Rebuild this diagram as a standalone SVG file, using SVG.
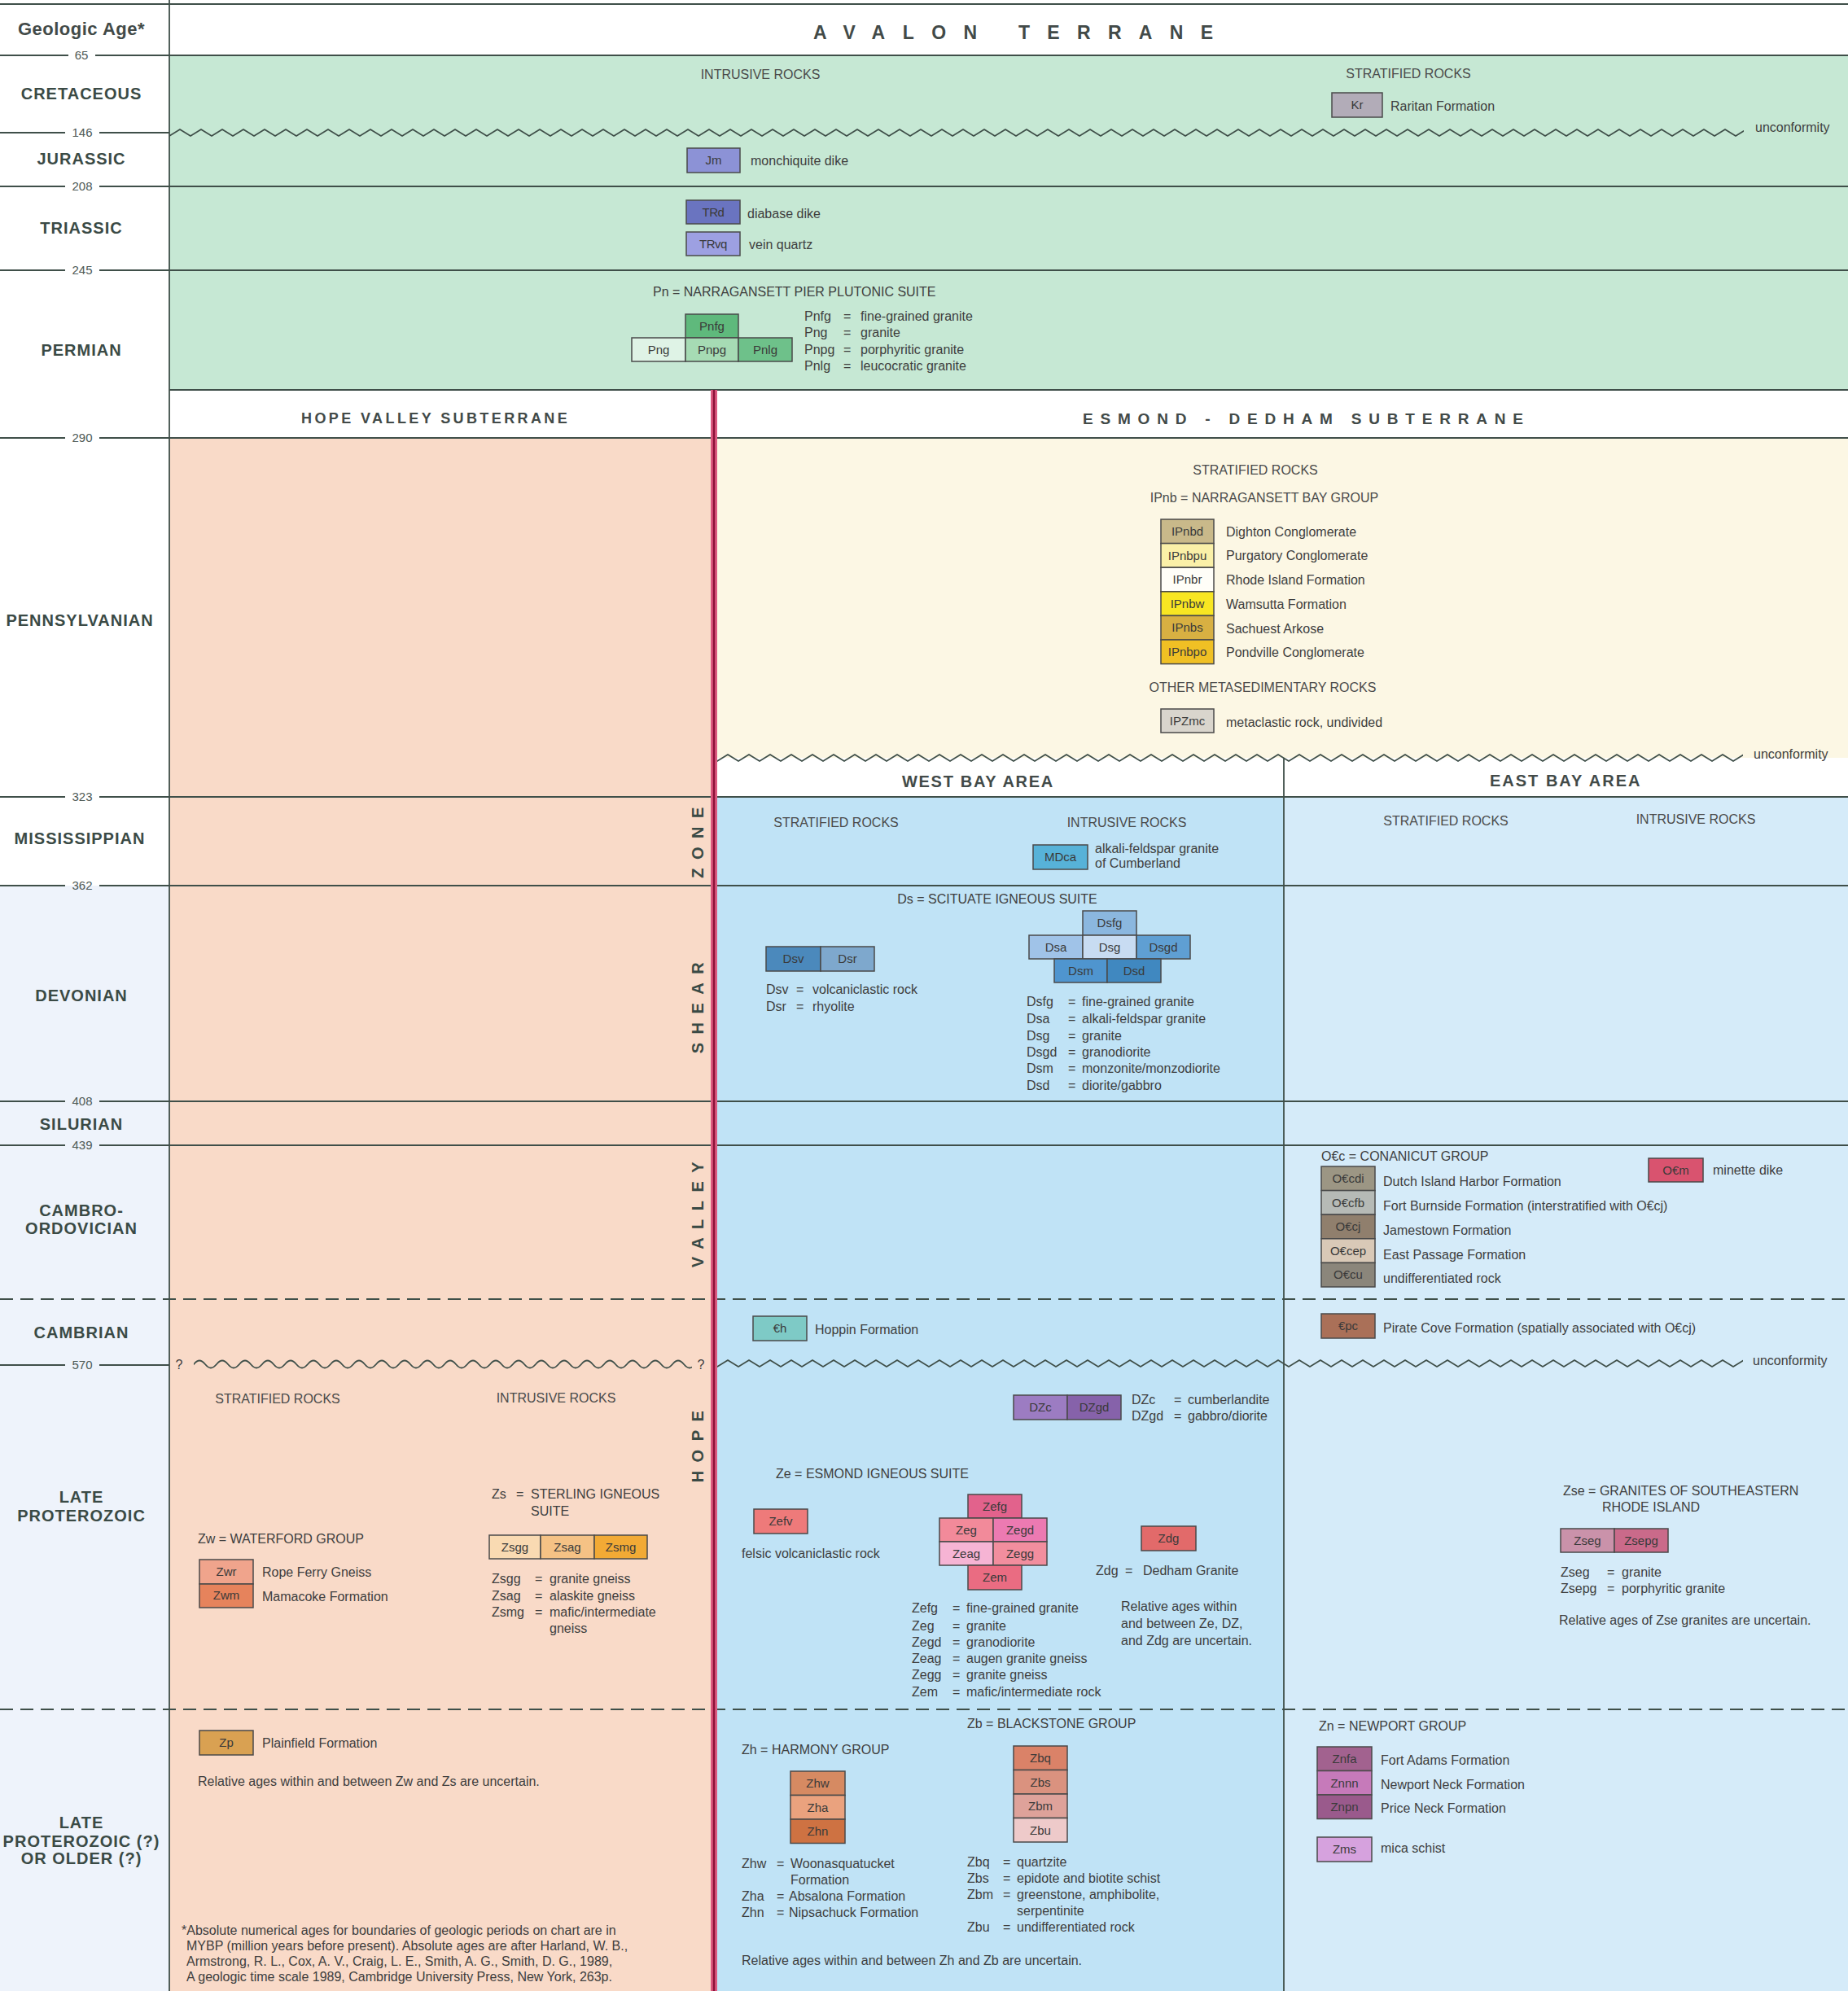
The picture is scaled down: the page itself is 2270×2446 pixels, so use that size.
<svg xmlns="http://www.w3.org/2000/svg" width="2270" height="2446" viewBox="0 0 2270 2446">
<defs>
<style>
.t{font-family:"Liberation Sans",Arial,sans-serif;font-size:16px;fill:#3e3e3e}
.h{font-family:"Liberation Sans",Arial,sans-serif;font-size:16px;fill:#4a4a4a;text-anchor:middle}
.c{text-anchor:middle}
.per{font-family:"Liberation Sans",Arial,sans-serif;font-size:20px;font-weight:bold;fill:#3a4a45;text-anchor:middle;letter-spacing:1px}
.num{font-family:"Liberation Sans",Arial,sans-serif;font-size:15px;fill:#4f5a56;text-anchor:middle}
.ln{stroke:#3f4f49;stroke-width:1.8;fill:none}
.dash{stroke:#3f4f49;stroke-width:1.8;stroke-dasharray:16 9;fill:none}
.bx{stroke:#4a4a4a;stroke-width:1.5}
.bt{font-family:"Liberation Sans",Arial,sans-serif;font-size:15px;fill:#3a3a3a;text-anchor:middle}
.ttl{font-family:"Liberation Sans",Arial,sans-serif;font-weight:bold;fill:#424a48}
.vt{font-family:"Liberation Sans",Arial,sans-serif;font-size:20px;font-weight:bold;fill:#3a4a45;text-anchor:middle;letter-spacing:10.5px}
</style>
<pattern id="zig" width="26" height="14" patternUnits="userSpaceOnUse">
<path d="M-13,3 L0,11 L13,3 L26,11 L39,3" fill="none" stroke="#3f4f49" stroke-width="1.8" stroke-linejoin="round"/>
</pattern>
<pattern id="sine" width="28" height="14" patternUnits="userSpaceOnUse">
<path d="M-14,7 C-9,13 -5,13 0,7 C5,1 9,1 14,7 C19,13 23,13 28,7 C33,1 37,1 42,7" fill="none" stroke="#3f4f49" stroke-width="1.8"/>
</pattern>
</defs>

<g id="backgrounds">
<rect x="0" y="0" width="2270" height="2446" fill="#ffffff"/>
<rect x="0" y="1088" width="208" height="1358" fill="#eef3fb"/>
<rect x="208" y="68" width="2062" height="411" fill="#c6e8d4"/>
<rect x="208" y="538" width="665" height="1908" fill="#f9dac8"/>
<rect x="881" y="538" width="1389" height="393" fill="#fcf7e4"/>
<rect x="881" y="978" width="696" height="1468" fill="#c0e3f6"/>
<rect x="1577" y="978" width="693" height="1468" fill="#d5ebf9"/>
</g>

<g id="connectors">
<line class="ln" x1="0" y1="5" x2="2270" y2="5"/>
<line class="ln" x1="208" y1="0" x2="208" y2="2446"/>
<line class="ln" x1="0" y1="68" x2="84" y2="68"/><line class="ln" x1="117" y1="68" x2="2270" y2="68"/>
<line class="ln" x1="0" y1="163" x2="80" y2="163"/><line class="ln" x1="122" y1="163" x2="208" y2="163"/>
<rect x="0" y="0" width="1934" height="14" fill="url(#zig)" transform="translate(208,156)"/>
<line class="ln" x1="0" y1="229" x2="80" y2="229"/><line class="ln" x1="122" y1="229" x2="2270" y2="229"/>
<line class="ln" x1="0" y1="332" x2="80" y2="332"/><line class="ln" x1="122" y1="332" x2="2270" y2="332"/>
<line class="ln" x1="208" y1="479" x2="2270" y2="479"/>
<line class="ln" x1="0" y1="538" x2="80" y2="538"/><line class="ln" x1="122" y1="538" x2="2270" y2="538"/>
<rect x="0" y="0" width="1260" height="14" fill="url(#zig)" transform="translate(881,924)"/>
<line class="ln" x1="1577" y1="931" x2="1577" y2="2446"/>
<line class="ln" x1="0" y1="979" x2="80" y2="979"/><line class="ln" x1="122" y1="979" x2="2270" y2="979"/>
<line class="ln" x1="0" y1="1088" x2="80" y2="1088"/><line class="ln" x1="122" y1="1088" x2="2270" y2="1088"/>
<line class="ln" x1="0" y1="1353" x2="80" y2="1353"/><line class="ln" x1="122" y1="1353" x2="2270" y2="1353"/>
<line class="ln" x1="0" y1="1407" x2="80" y2="1407"/><line class="ln" x1="122" y1="1407" x2="2270" y2="1407"/>
<line class="dash" x1="0" y1="1596" x2="2270" y2="1596"/>
<line class="ln" x1="0" y1="1677" x2="80" y2="1677"/><line class="ln" x1="122" y1="1677" x2="208" y2="1677"/>
<rect x="0" y="0" width="612" height="14" fill="url(#sine)" transform="translate(238,1669)"/>
<rect x="0" y="0" width="1260" height="14" fill="url(#zig)" transform="translate(881,1668)"/>
<line class="dash" x1="0" y1="2100" x2="2270" y2="2100"/>
<rect x="873" y="479" width="8" height="1967" fill="#dc5a80"/>
<line x1="877" y1="479" x2="877" y2="2446" stroke="#8c1238" stroke-width="2.5"/>
</g>

<g id="age-column">
<text class="ttl" x="100" y="43" font-size="22" text-anchor="middle" letter-spacing="0.5">Geologic Age*</text>
<text class="num" x="100" y="73">65</text>
<text class="num" x="101" y="168">146</text>
<text class="num" x="101" y="234">208</text>
<text class="num" x="101" y="337">245</text>
<text class="num" x="101" y="543">290</text>
<text class="num" x="101" y="984">323</text>
<text class="num" x="101" y="1093">362</text>
<text class="num" x="101" y="1358">408</text>
<text class="num" x="101" y="1412">439</text>
<text class="num" x="101" y="1682">570</text>
<text class="per" x="100" y="122">CRETACEOUS</text>
<text class="per" x="100" y="202">JURASSIC</text>
<text class="per" x="100" y="287">TRIASSIC</text>
<text class="per" x="100" y="437">PERMIAN</text>
<text class="per" x="98" y="769">PENNSYLVANIAN</text>
<text class="per" x="98" y="1037">MISSISSIPPIAN</text>
<text class="per" x="100" y="1230">DEVONIAN</text>
<text class="per" x="100" y="1388">SILURIAN</text>
<text class="per" x="100" y="1494">CAMBRO-</text>
<text class="per" x="100" y="1516">ORDOVICIAN</text>
<text class="per" x="100" y="1644">CAMBRIAN</text>
<text class="per" x="100" y="1846">LATE</text>
<text class="per" x="100" y="1869">PROTEROZOIC</text>
<text class="per" x="100" y="2246">LATE</text>
<text class="per" x="100" y="2269">PROTEROZOIC (?)</text>
<text class="per" x="100" y="2290">OR OLDER (?)</text>
</g>

<g id="headers">
<text class="ttl" x="999" y="48" font-size="23" letter-spacing="21.5">AVALON</text>
<text class="ttl" x="1251" y="48" font-size="23" letter-spacing="21.3">TERRANE</text>
<text class="ttl" x="370" y="520" font-size="18" letter-spacing="3.4">HOPE VALLEY SUBTERRANE</text>
<text class="ttl" x="1330" y="521" font-size="19" letter-spacing="8.8">ESMOND - DEDHAM SUBTERRANE</text>
<text class="ttl" x="1108" y="967" font-size="20" letter-spacing="1.7">WEST BAY AREA</text>
<text class="ttl" x="1830" y="966" font-size="20" letter-spacing="2">EAST BAY AREA</text>
<text class="vt" transform="translate(864,1030) rotate(-90)">ZONE</text>
<text class="vt" transform="translate(864,1233) rotate(-90)">SHEAR</text>
<text class="vt" transform="translate(864,1487) rotate(-90)">VALLEY</text>
<text class="vt" transform="translate(864,1772) rotate(-90)">HOPE</text>
<text class="t" x="2156" y="162">unconformity</text>
<text class="t" x="2154" y="932">unconformity</text>
<text class="t" x="2153" y="1677">unconformity</text>
<text class="t" x="220" y="1682" font-size="19" text-anchor="middle">?</text>
<text class="t" x="861" y="1682" font-size="19" text-anchor="middle">?</text>
</g>

<g id="avalon">
<text class="h" x="934" y="97">INTRUSIVE ROCKS</text>
<text class="h" x="1730" y="96">STRATIFIED ROCKS</text>
<g id="n-Kr"><rect class="bx" x="1636" y="114" width="62" height="30" fill="#b2acb8"/><text class="bt" x="1667" y="134">Kr</text><text class="t" x="1708" y="136">Raritan Formation</text></g>
<g id="n-Jm"><rect class="bx" x="844" y="182" width="65" height="30" fill="#8c92d6"/><text class="bt" x="876.5" y="202">Jm</text><text class="t" x="922" y="203">monchiquite dike</text></g>
<g id="n-TRd"><rect class="bx" x="843" y="246" width="66" height="29" fill="#6a74c0"/><text class="bt" x="876" y="266" letter-spacing="-0.5">TRd</text><text class="t" x="918" y="268">diabase dike</text></g>
<g id="n-TRvq"><rect class="bx" x="843" y="285" width="66" height="29" fill="#9da0e2"/><text class="bt" x="876" y="305" letter-spacing="-0.5">TRvq</text><text class="t" x="920" y="306">vein quartz</text></g>
<g id="n-Pn">
<text class="t" x="802" y="364">Pn = NARRAGANSETT PIER PLUTONIC SUITE</text>
<rect class="bx" x="842" y="386" width="65" height="29" fill="#5fb97c"/><text class="bt" x="874.5" y="406">Pnfg</text>
<rect class="bx" x="776" y="415" width="66" height="29" fill="#dff3e6"/><text class="bt" x="809" y="435">Png</text>
<rect class="bx" x="842" y="415" width="65" height="29" fill="#a6dbb4"/><text class="bt" x="874.5" y="435">Pnpg</text>
<rect class="bx" x="907" y="415" width="66" height="29" fill="#6ec18a"/><text class="bt" x="940" y="435">Pnlg</text>
<text class="t" x="988" y="394">Pnfg</text><text class="t" x="1036" y="394">=</text><text class="t" x="1057" y="394">fine-grained granite</text>
<text class="t" x="988" y="414">Png</text><text class="t" x="1036" y="414">=</text><text class="t" x="1057" y="414">granite</text>
<text class="t" x="988" y="435">Pnpg</text><text class="t" x="1036" y="435">=</text><text class="t" x="1057" y="435">porphyritic granite</text>
<text class="t" x="988" y="455">Pnlg</text><text class="t" x="1036" y="455">=</text><text class="t" x="1057" y="455">leucocratic granite</text>
</g>
</g>

<g id="pennsylvanian">
<text class="h" x="1542" y="583">STRATIFIED ROCKS</text>
<text class="h" x="1553" y="617">IPnb = NARRAGANSETT BAY GROUP</text>
<g id="n-Pnbd"><rect class="bx" x="1426" y="638" width="65" height="29.6" fill="#c9b98a"/><text class="bt" x="1458.5" y="658">IPnbd</text><text class="t" x="1506" y="659">Dighton Conglomerate</text></g>
<g id="n-Pnbpu"><rect class="bx" x="1426" y="667.6" width="65" height="29.6" fill="#faf0a8"/><text class="bt" x="1458.5" y="687.5">IPnbpu</text><text class="t" x="1506" y="688">Purgatory Conglomerate</text></g>
<g id="n-Pnbr"><rect class="bx" x="1426" y="697.2" width="65" height="29.6" fill="#fffef8"/><text class="bt" x="1458.5" y="717">IPnbr</text><text class="t" x="1506" y="718">Rhode Island Formation</text></g>
<g id="n-Pnbw"><rect class="bx" x="1426" y="726.8" width="65" height="29.6" fill="#f8e622"/><text class="bt" x="1458.5" y="746.5">IPnbw</text><text class="t" x="1506" y="748">Wamsutta Formation</text></g>
<g id="n-Pnbs"><rect class="bx" x="1426" y="756.4" width="65" height="29.6" fill="#d8b042"/><text class="bt" x="1458.5" y="776">IPnbs</text><text class="t" x="1506" y="778">Sachuest Arkose</text></g>
<g id="n-Pnbpo"><rect class="bx" x="1426" y="786" width="65" height="29.6" fill="#f0c024"/><text class="bt" x="1458.5" y="806">IPnbpo</text><text class="t" x="1506" y="807">Pondville Conglomerate</text></g>
<text class="h" x="1551" y="850">OTHER METASEDIMENTARY ROCKS</text>
<g id="n-PZmc"><rect class="bx" x="1426" y="871" width="65" height="29" fill="#d9d5cd"/><text class="bt" x="1458.5" y="891">IPZmc</text><text class="t" x="1506" y="893">metaclastic rock, undivided</text></g>
</g>

<g id="west-bay">
<text class="h" x="1027" y="1016">STRATIFIED ROCKS</text>
<text class="h" x="1384" y="1016">INTRUSIVE ROCKS</text>
<g id="n-MDca"><rect class="bx" x="1269" y="1038" width="67" height="30" fill="#57b2d8"/><text class="bt" x="1302.5" y="1058">MDca</text><text class="t" x="1345" y="1048">alkali-feldspar granite</text><text class="t" x="1345" y="1066">of Cumberland</text></g>
<text class="t" x="1225" y="1110" text-anchor="middle">Ds = SCITUATE IGNEOUS SUITE</text>
<g id="n-Dsv"><rect class="bx" x="941" y="1163" width="67" height="30" fill="#4b89bc"/><text class="bt" x="974.5" y="1183">Dsv</text></g>
<g id="n-Dsr"><rect class="bx" x="1008" y="1163" width="66" height="30" fill="#7ea8cd"/><text class="bt" x="1041" y="1183">Dsr</text></g>
<text class="t" x="941" y="1221">Dsv</text><text class="t" x="978" y="1221">=</text><text class="t" x="998" y="1221">volcaniclastic rock</text>
<text class="t" x="941" y="1242">Dsr</text><text class="t" x="978" y="1242">=</text><text class="t" x="998" y="1242">rhyolite</text>
<g id="n-Dsfg"><rect class="bx" x="1330" y="1119" width="66" height="30" fill="#8bb7df"/><text class="bt" x="1363" y="1139">Dsfg</text></g>
<g id="n-Dsa"><rect class="bx" x="1264" y="1149" width="66" height="29" fill="#a0c3e8"/><text class="bt" x="1297" y="1169">Dsa</text></g>
<g id="n-Dsg"><rect class="bx" x="1330" y="1149" width="66" height="29" fill="#c8dcf2"/><text class="bt" x="1363" y="1169">Dsg</text></g>
<g id="n-Dsgd"><rect class="bx" x="1396" y="1149" width="66" height="29" fill="#5f9fd3"/><text class="bt" x="1429" y="1169">Dsgd</text></g>
<g id="n-Dsm"><rect class="bx" x="1295" y="1178" width="65" height="29" fill="#4f95cf"/><text class="bt" x="1327.5" y="1198">Dsm</text></g>
<g id="n-Dsd"><rect class="bx" x="1360" y="1178" width="66" height="29" fill="#4088c0"/><text class="bt" x="1393" y="1198">Dsd</text></g>
<text class="t" x="1261" y="1236">Dsfg</text><text class="t" x="1312" y="1236">=</text><text class="t" x="1329" y="1236">fine-grained granite</text>
<text class="t" x="1261" y="1257">Dsa</text><text class="t" x="1312" y="1257">=</text><text class="t" x="1329" y="1257">alkali-feldspar granite</text>
<text class="t" x="1261" y="1278">Dsg</text><text class="t" x="1312" y="1278">=</text><text class="t" x="1329" y="1278">granite</text>
<text class="t" x="1261" y="1298">Dsgd</text><text class="t" x="1312" y="1298">=</text><text class="t" x="1329" y="1298">granodiorite</text>
<text class="t" x="1261" y="1318">Dsm</text><text class="t" x="1312" y="1318">=</text><text class="t" x="1329" y="1318">monzonite/monzodiorite</text>
<text class="t" x="1261" y="1339">Dsd</text><text class="t" x="1312" y="1339">=</text><text class="t" x="1329" y="1339">diorite/gabbro</text>
<g id="n-Ch"><rect class="bx" x="925" y="1617" width="66" height="30" fill="#7ecac6"/><text class="bt" x="958" y="1637">€h</text><text class="t" x="1001" y="1639">Hoppin Formation</text></g>
<g id="n-DZ"><rect class="bx" x="1245" y="1714" width="66" height="30" fill="#9c7cc2"/><text class="bt" x="1278" y="1734">DZc</text>
<rect class="bx" x="1311" y="1714" width="66" height="30" fill="#8662aa"/><text class="bt" x="1344" y="1734">DZgd</text>
<text class="t" x="1390" y="1725">DZc</text><text class="t" x="1442" y="1725">=</text><text class="t" x="1459" y="1725">cumberlandite</text>
<text class="t" x="1390" y="1745">DZgd</text><text class="t" x="1442" y="1745">=</text><text class="t" x="1459" y="1745">gabbro/diorite</text></g>
<text class="t" x="953" y="1816" font-size="18">Ze = ESMOND IGNEOUS SUITE</text>
<g id="n-Zefv"><rect class="bx" x="926" y="1854" width="66" height="30" fill="#ee7a7a"/><text class="bt" x="959" y="1874">Zefv</text><text class="t" x="911" y="1914">felsic volcaniclastic rock</text></g>
<g id="n-Ze">
<rect class="bx" x="1189" y="1836" width="66" height="29" fill="#e2628c"/><text class="bt" x="1222" y="1856">Zefg</text>
<rect class="bx" x="1154" y="1865" width="66" height="29" fill="#f28a9a"/><text class="bt" x="1187" y="1885">Zeg</text>
<rect class="bx" x="1220" y="1865" width="66" height="29" fill="#ec7ab2"/><text class="bt" x="1253" y="1885">Zegd</text>
<rect class="bx" x="1154" y="1894" width="66" height="29" fill="#f6b4d4"/><text class="bt" x="1187" y="1914">Zeag</text>
<rect class="bx" x="1220" y="1894" width="66" height="29" fill="#f28e9e"/><text class="bt" x="1253" y="1914">Zegg</text>
<rect class="bx" x="1189" y="1923" width="66" height="30" fill="#ea6c82"/><text class="bt" x="1222" y="1943">Zem</text>
</g>
<text class="t" x="1120" y="1981">Zefg</text><text class="t" x="1170" y="1981">=</text><text class="t" x="1187" y="1981">fine-grained granite</text>
<text class="t" x="1120" y="2003">Zeg</text><text class="t" x="1170" y="2003">=</text><text class="t" x="1187" y="2003">granite</text>
<text class="t" x="1120" y="2023">Zegd</text><text class="t" x="1170" y="2023">=</text><text class="t" x="1187" y="2023">granodiorite</text>
<text class="t" x="1120" y="2043">Zeag</text><text class="t" x="1170" y="2043">=</text><text class="t" x="1187" y="2043">augen granite gneiss</text>
<text class="t" x="1120" y="2063">Zegg</text><text class="t" x="1170" y="2063">=</text><text class="t" x="1187" y="2063">granite gneiss</text>
<text class="t" x="1120" y="2084">Zem</text><text class="t" x="1170" y="2084">=</text><text class="t" x="1187" y="2084">mafic/intermediate rock</text>
<g id="n-Zdg"><rect class="bx" x="1402" y="1875" width="67" height="30" fill="#e26a6a"/><text class="bt" x="1435.5" y="1895">Zdg</text><text class="t" x="1346" y="1935">Zdg</text><text class="t" x="1382" y="1935">=</text><text class="t" x="1404" y="1935">Dedham Granite</text></g>
<text class="t" x="1377" y="1979">Relative ages within</text>
<text class="t" x="1377" y="2000">and between Ze, DZ,</text>
<text class="t" x="1377" y="2021">and Zdg are uncertain.</text>
<text class="t" x="1188" y="2123">Zb = BLACKSTONE GROUP</text>
<text class="t" x="911" y="2155">Zh = HARMONY GROUP</text>
<g id="n-Zh">
<rect class="bx" x="971" y="2176" width="67" height="29.5" fill="#d68a62"/><text class="bt" x="1004.5" y="2196">Zhw</text>
<rect class="bx" x="971" y="2205.5" width="67" height="29.5" fill="#eaa27e"/><text class="bt" x="1004.5" y="2225.5">Zha</text>
<rect class="bx" x="971" y="2235" width="67" height="29.5" fill="#ce7242"/><text class="bt" x="1004.5" y="2255">Zhn</text>
</g>
<g id="n-Zb">
<rect class="bx" x="1245" y="2145" width="66" height="29.5" fill="#da8268"/><text class="bt" x="1278" y="2165">Zbq</text>
<rect class="bx" x="1245" y="2174.5" width="66" height="29.5" fill="#da927f"/><text class="bt" x="1278" y="2194.5">Zbs</text>
<rect class="bx" x="1245" y="2204" width="66" height="29.5" fill="#dea29a"/><text class="bt" x="1278" y="2224">Zbm</text>
<rect class="bx" x="1245" y="2233.5" width="66" height="29.5" fill="#eecaca"/><text class="bt" x="1278" y="2253.5">Zbu</text>
</g>
<text class="t" x="911" y="2295">Zhw</text><text class="t" x="954" y="2295">=</text><text class="t" x="971" y="2295">Woonasquatucket</text>
<text class="t" x="971" y="2315">Formation</text>
<text class="t" x="911" y="2335">Zha</text><text class="t" x="954" y="2335">=</text><text class="t" x="969" y="2335">Absalona Formation</text>
<text class="t" x="911" y="2355">Zhn</text><text class="t" x="954" y="2355">=</text><text class="t" x="969" y="2355">Nipsachuck Formation</text>
<text class="t" x="1188" y="2293">Zbq</text><text class="t" x="1232" y="2293">=</text><text class="t" x="1249" y="2293">quartzite</text>
<text class="t" x="1188" y="2313">Zbs</text><text class="t" x="1232" y="2313">=</text><text class="t" x="1249" y="2313">epidote and biotite schist</text>
<text class="t" x="1188" y="2333">Zbm</text><text class="t" x="1232" y="2333">=</text><text class="t" x="1249" y="2333">greenstone, amphibolite,</text>
<text class="t" x="1249" y="2353">serpentinite</text>
<text class="t" x="1188" y="2373">Zbu</text><text class="t" x="1232" y="2373">=</text><text class="t" x="1249" y="2373">undifferentiated rock</text>
<text class="t" x="911" y="2414">Relative ages within and between Zh and Zb are uncertain.</text>
</g>

<g id="east-bay">
<text class="h" x="1776" y="1014">STRATIFIED ROCKS</text>
<text class="h" x="2083" y="1012">INTRUSIVE ROCKS</text>
<text class="t" x="1623" y="1426">O€c = CONANICUT GROUP</text>
<g id="n-OCcdi"><rect class="bx" x="1623" y="1433" width="66" height="29.6" fill="#9c9684"/><text class="bt" x="1656" y="1453">O€cdi</text><text class="t" x="1699" y="1457">Dutch Island Harbor Formation</text></g>
<g id="n-OCcfb"><rect class="bx" x="1623" y="1462.6" width="66" height="29.6" fill="#b6bab6"/><text class="bt" x="1656" y="1482.5">O€cfb</text><text class="t" x="1699" y="1487">Fort Burnside Formation (interstratified with O€cj)</text></g>
<g id="n-OCcj"><rect class="bx" x="1623" y="1492.2" width="66" height="29.6" fill="#907f6d"/><text class="bt" x="1656" y="1512">O€cj</text><text class="t" x="1699" y="1517">Jamestown Formation</text></g>
<g id="n-OCcep"><rect class="bx" x="1623" y="1521.8" width="66" height="29.6" fill="#d9c9b7"/><text class="bt" x="1656" y="1541.5">O€cep</text><text class="t" x="1699" y="1547">East Passage Formation</text></g>
<g id="n-OCcu"><rect class="bx" x="1623" y="1551.4" width="66" height="29.6" fill="#8b867b"/><text class="bt" x="1656" y="1571">O€cu</text><text class="t" x="1699" y="1576">undifferentiated rock</text></g>
<g id="n-OCm"><rect class="bx" x="2025" y="1423" width="67" height="29" fill="#d9536f"/><text class="bt" x="2058.5" y="1443">O€m</text><text class="t" x="2104" y="1443">minette dike</text></g>
<g id="n-Cpc"><rect class="bx" x="1623" y="1614" width="66" height="30" fill="#aa7058"/><text class="bt" x="1656" y="1634">€pc</text><text class="t" x="1699" y="1637">Pirate Cove Formation (spatially associated with O€cj)</text></g>
<text class="t" x="1920" y="1837">Zse = GRANITES OF SOUTHEASTERN</text>
<text class="t" x="1968" y="1857">RHODE ISLAND</text>
<g id="n-Zse"><rect class="bx" x="1917" y="1878" width="66" height="29" fill="#ca92aa"/><text class="bt" x="1950" y="1898">Zseg</text>
<rect class="bx" x="1983" y="1878" width="66" height="29" fill="#ca6a8a"/><text class="bt" x="2016" y="1898">Zsepg</text></g>
<text class="t" x="1917" y="1937">Zseg</text><text class="t" x="1974" y="1937">=</text><text class="t" x="1992" y="1937">granite</text>
<text class="t" x="1917" y="1957">Zsepg</text><text class="t" x="1974" y="1957">=</text><text class="t" x="1992" y="1957">porphyritic granite</text>
<text class="t" x="1915" y="1996">Relative ages of Zse granites are uncertain.</text>
<text class="t" x="1620" y="2126">Zn = NEWPORT GROUP</text>
<g id="n-Znfa"><rect class="bx" x="1618" y="2146" width="67" height="29.5" fill="#a2628f"/><text class="bt" x="1651.5" y="2166">Znfa</text><text class="t" x="1696" y="2168">Fort Adams Formation</text></g>
<g id="n-Znnn"><rect class="bx" x="1618" y="2175.5" width="67" height="29.5" fill="#c67aba"/><text class="bt" x="1651.5" y="2195.5">Znnn</text><text class="t" x="1696" y="2198">Newport Neck Formation</text></g>
<g id="n-Znpn"><rect class="bx" x="1618" y="2205" width="67" height="29.5" fill="#9a5a8c"/><text class="bt" x="1651.5" y="2225">Znpn</text><text class="t" x="1696" y="2227">Price Neck Formation</text></g>
<g id="n-Zms"><rect class="bx" x="1618" y="2257" width="67" height="30" fill="#d6a2de"/><text class="bt" x="1651.5" y="2277">Zms</text><text class="t" x="1696" y="2276">mica schist</text></g>
</g>

<g id="hope-valley">
<text class="h" x="341" y="1724">STRATIFIED ROCKS</text>
<text class="h" x="683" y="1723">INTRUSIVE ROCKS</text>
<text class="t" x="604" y="1841">Zs</text><text class="t" x="634" y="1841">=</text><text class="t" x="652" y="1841">STERLING IGNEOUS</text>
<text class="t" x="652" y="1862">SUITE</text>
<text class="t" x="243" y="1896">Zw = WATERFORD GROUP</text>
<g id="n-Zwr"><rect class="bx" x="245" y="1916" width="66" height="30" fill="#f0a48c"/><text class="bt" x="278" y="1936" font-size="14">Zwr</text><text class="t" x="322" y="1937">Rope Ferry Gneiss</text></g>
<g id="n-Zwm"><rect class="bx" x="245" y="1946" width="66" height="29" fill="#e6835c"/><text class="bt" x="278" y="1965" font-size="14">Zwm</text><text class="t" x="322" y="1967">Mamacoke Formation</text></g>
<g id="n-Zs">
<rect class="bx" x="601" y="1886" width="63" height="29" fill="#f9dab2"/><text class="bt" x="632.5" y="1906">Zsgg</text>
<rect class="bx" x="664" y="1886" width="66" height="29" fill="#f5c285"/><text class="bt" x="697" y="1906">Zsag</text>
<rect class="bx" x="730" y="1886" width="65" height="29" fill="#f2aa35"/><text class="bt" x="762.5" y="1906">Zsmg</text>
</g>
<text class="t" x="604" y="1945">Zsgg</text><text class="t" x="657" y="1945">=</text><text class="t" x="675" y="1945">granite gneiss</text>
<text class="t" x="604" y="1966">Zsag</text><text class="t" x="657" y="1966">=</text><text class="t" x="675" y="1966">alaskite gneiss</text>
<text class="t" x="604" y="1986">Zsmg</text><text class="t" x="657" y="1986">=</text><text class="t" x="675" y="1986">mafic/intermediate</text>
<text class="t" x="675" y="2006">gneiss</text>
<g id="n-Zp"><rect class="bx" x="245" y="2126" width="66" height="30" fill="#d9a152"/><text class="bt" x="278" y="2146" font-size="14">Zp</text><text class="t" x="322" y="2147">Plainfield Formation</text></g>
<text class="t" x="243" y="2194">Relative ages within and between Zw and Zs are uncertain.</text>
<text class="t" x="223" y="2377" font-size="15">*Absolute numerical ages for boundaries of geologic periods on chart are in</text>
<text class="t" x="229" y="2396" font-size="15">MYBP (million years before present). Absolute ages are after Harland, W. B.,</text>
<text class="t" x="229" y="2415" font-size="15">Armstrong, R. L., Cox, A. V., Craig, L. E., Smith, A. G., Smith, D. G., 1989,</text>
<text class="t" x="229" y="2434" font-size="15">A geologic time scale 1989, Cambridge University Press, New York, 263p.</text>
</g>
</svg>
